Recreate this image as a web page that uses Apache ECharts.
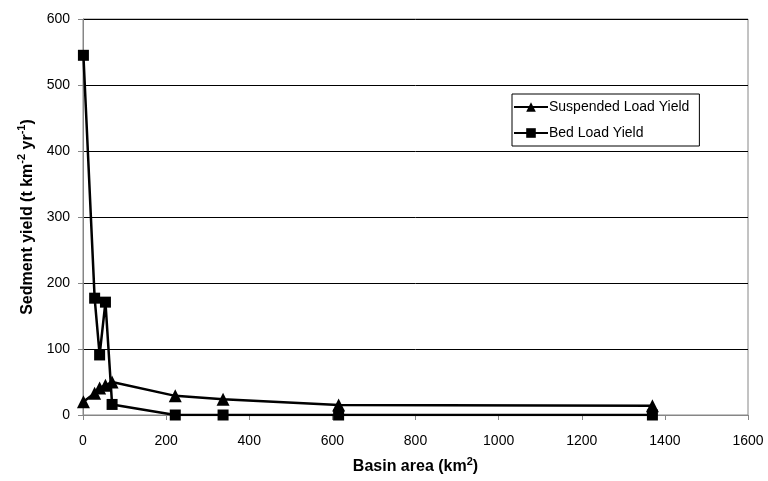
<!DOCTYPE html>
<html>
<head>
<meta charset="utf-8">
<style>
  html, body { margin: 0; padding: 0; background: #fff; }
  #chart { width: 768px; height: 481px; }
</style>
<script src="https://cdn.jsdelivr.net/npm/echarts@6/dist/echarts.min.js"></script>
</head>
<body>
<div id="chart"></div>
<script>
const FONT = 'Liberation Sans, Arial, sans-serif';
const AXIS_GRAY = '#868686';

// basin area (km2) for each station
const basinArea = [1, 28, 40, 54, 70, 222, 337, 615, 1370];
// sediment yields (t km-2 yr-1)
const suspendedYield = [20, 33, 41, 45, 50, 29, 24, 15, 14];
const bedYield = [545, 177, 91, 171, 16, 0, 0, 0, 0];

const seriesNames = ['Suspended Load Yield', 'Bed Load Yield'];
const xTicks = { min: 0, max: 1600, interval: 200 };
const yTicks = { min: 0, max: 600, interval: 100 };

const pair = (vals) => vals.map((v, i) => [basinArea[i], v]);

// superscript piece for the axis titles
const titleRich = {
  t: {
    fontSize: 16, fontWeight: 'bold', fontFamily: FONT, color: '#000',
    lineHeight: 18, verticalAlign: 'bottom'
  },
  sup: {
    fontSize: 11, fontWeight: 'bold', fontFamily: FONT, color: '#000',
    lineHeight: 11, padding: [0, 0, 8, 0], verticalAlign: 'bottom'
  }
};

const chartOptions = {
  animation: false,
  backgroundColor: '#fff',
  textStyle: { fontFamily: FONT, color: '#000' },
  grid: {
    left: 83,
    right: 20,
    top: 19,
    bottom: 66,
    show: true,
    borderColor: AXIS_GRAY,
    borderWidth: 1
  },
  legend: {
    orient: 'vertical',
    left: 512,
    top: 94,
    width: 212,
    padding: [6, 10, 6, 1],
    itemGap: 12,
    itemWidth: 34,
    itemHeight: 12,
    borderColor: '#000',
    borderWidth: 1,
    backgroundColor: '#fff',
    textStyle: { fontSize: 14, fontFamily: FONT, color: '#000', padding: [0, 0, 0, -4] },
    data: seriesNames
  },
  xAxis: {
    type: 'value',
    min: xTicks.min,
    max: xTicks.max,
    interval: xTicks.interval,
    name: '{t|Basin area (km}{sup|2}{t|)}',
    nameLocation: 'middle',
    nameGap: 42,
    nameTextStyle: { rich: titleRich },
    axisLine: { lineStyle: { color: AXIS_GRAY, width: 1 } },
    axisTick: { inside: false, length: 5, lineStyle: { color: AXIS_GRAY } },
    axisLabel: {
      fontSize: 14, color: '#000', margin: 19, fontFamily: FONT,
      formatter: (v) => String(v)
    },
    splitLine: { show: false }
  },
  yAxis: {
    type: 'value',
    min: yTicks.min,
    max: yTicks.max,
    interval: yTicks.interval,
    name: '{t|Sedment yield (t km}{sup|-2}{t| yr}{sup|-1}{t|)}',
    nameLocation: 'middle',
    nameGap: 46,
    nameTextStyle: { rich: titleRich },
    axisLine: { show: true, lineStyle: { color: AXIS_GRAY, width: 1 } },
    axisTick: { show: true, inside: false, length: 5, lineStyle: { color: AXIS_GRAY } },
    axisLabel: {
      fontSize: 14, color: '#000', margin: 13, fontFamily: FONT,
      formatter: (v) => String(v)
    },
    splitLine: { show: true, lineStyle: { color: '#000', width: 1 } }
  },
  series: [
    {
      name: seriesNames[0],
      type: 'line',
      symbol: 'triangle',
      symbolSize: 13,
      itemStyle: { color: '#000' },
      lineStyle: { color: '#000', width: 2.5 },
      data: pair(suspendedYield),
      z: 3
    }, {
      name: seriesNames[1],
      type: 'line',
      symbol: 'rect',
      symbolSize: 11,
      itemStyle: { color: '#000' },
      lineStyle: { color: '#000', width: 2.5 },
      data: pair(bedYield),
      z: 4
    }
  ]
};

const chart = echarts.init(document.getElementById('chart'));
chart.setOption(chartOptions);
</script>
</body>
</html>
